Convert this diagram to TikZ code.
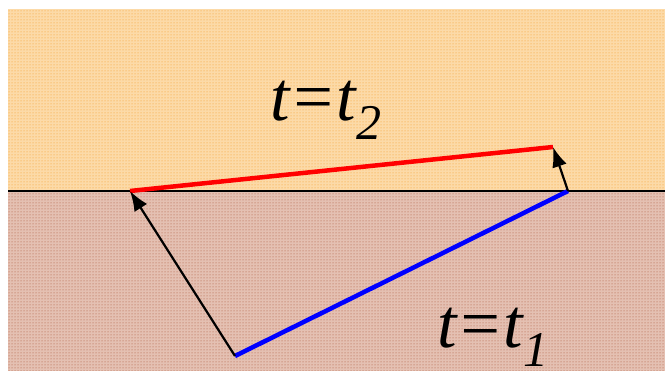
\documentclass[tikz,border=0pt]{standalone}
\usepackage{fontspec}
\setmainfont{Liberation Serif}
\usetikzlibrary{arrows.meta,patterns}
\definecolor{upbg}{RGB}{252,218,168}
\definecolor{updot}{RGB}{245,150,30}
\definecolor{lowbg}{RGB}{228,192,178}
\definecolor{lowdot}{RGB}{170,80,50}
\definecolor{redl}{RGB}{255,0,0}
\definecolor{bluel}{RGB}{0,0,255}
\tikzset{
  vec/.style={black,line width=2.2pt,-{Latex[length=20pt,width=15pt]}},
  thick line/.style={line width=4.5pt},
  lbl/.style={font=\itshape\fontsize{70}{72}\selectfont,inner sep=0pt,anchor=base west},
}
\newcommand{\subs}[1]{\raisebox{-0.26em}{\fontsize{50}{52}\selectfont #1}}
\begin{document}
\begin{tikzpicture}[x=1pt,y=-1pt]
\useasboundingbox (0,0) rectangle (665,371);
\fill[upbg] (8,9) rectangle (665,191);
\fill[pattern=dots,pattern color=updot] (8,9) rectangle (665,191);
\fill[lowbg] (8,191) rectangle (665,371);
\fill[pattern=dots,pattern color=lowdot] (8,191) rectangle (665,371);
\coordinate (L) at (8,191);
\coordinate (R) at (665,191);
\draw[line width=2.2pt] (L) -- (R);
\coordinate (A) at (130,191);
\coordinate (B) at (553,147);
\coordinate (C) at (568,191);
\coordinate (D) at (235,356);
\draw[redl,thick line] (A) -- (B);
\draw[bluel,thick line] (D) -- (C);
\draw[vec] (D) -- (A);
\draw[vec] (C) -- (B);
\node[lbl] (t2) at (270,121) {t=t\subs{2}};
\node[lbl] (t1) at (437,348) {t=t\subs{1}};
\end{tikzpicture}
\end{document}
